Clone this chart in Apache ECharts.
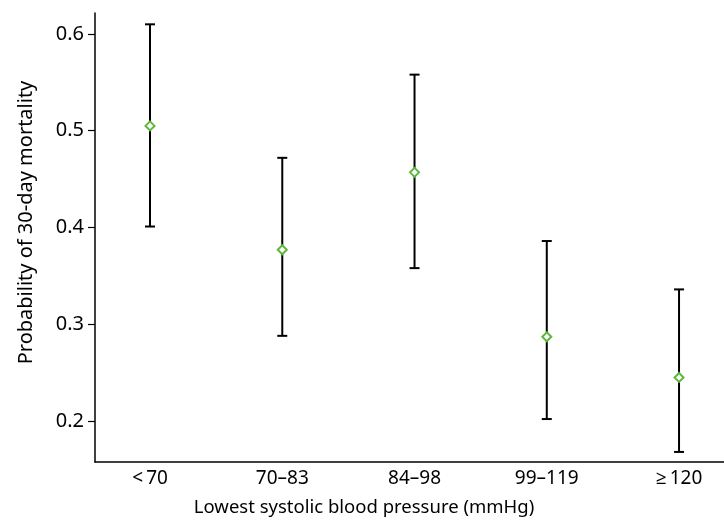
<!DOCTYPE html>
<html>
<head>
<meta charset="utf-8">
<script src="https://cdn.jsdelivr.net/npm/echarts@6/dist/echarts.min.js"></script>
<style>
  html, body { margin: 0; padding: 0; background: #fff; }
  #chart { width: 724px; height: 527px; }
</style>
</head>
<body>
<div id="chart"></div>
<script>
// Blood pressure groups and their estimated 30-day mortality with confidence bounds
const categories = ['<\u200970', '70\u201383', '84\u201398', '99\u2013119', '\u2265\u2009120'];
const estimate = [0.505, 0.377, 0.457, 0.287, 0.245];
const lower = [0.401, 0.288, 0.358, 0.202, 0.168];
const upper = [0.610, 0.472, 0.558, 0.386, 0.336];
const yTicks = [0.2, 0.3, 0.4, 0.5, 0.6];

const positions = categories.map((_, i) => i + 1);
const intervalData = positions.map((x, i) => [x, lower[i], upper[i]]);
const pointData = positions.map((x, i) => [x, estimate[i]]);

const font = '"Noto Sans", "Open Sans", sans-serif';
const chart = echarts.init(document.getElementById('chart'));

chart.setOption({
  animation: false,
  grid: { left: 95, right: 0, top: 13, bottom: 65 },
  xAxis: {
    type: 'value',
    min: 0.584,
    max: 5.34,
    splitLine: { show: false },
    axisLine: { lineStyle: { color: '#000', width: 1.5 } },
    axisTick: { show: false },
    axisLabel: {
      customValues: positions,
      formatter: v => categories[Math.round(v) - 1],
      color: '#000',
      fontSize: 19,
      fontFamily: font,
      margin: 7
    },
    name: 'Lowest systolic blood pressure (mmHg)',
    nameLocation: 'middle',
    nameGap: 36,
    nameTextStyle: { color: '#000', fontSize: 18.5, fontFamily: font, padding: [0, 91, 0, 0] }
  },
  yAxis: {
    type: 'value',
    min: 0.1576,
    max: 0.6217,
    splitLine: { show: false },
    axisLine: { show: true, lineStyle: { color: '#000', width: 1.5 } },
    axisTick: { show: true, customValues: yTicks, length: 7, lineStyle: { color: '#000', width: 1.2 } },
    axisLabel: {
      customValues: yTicks,
      formatter: v => v.toFixed(1),
      color: '#000',
      fontSize: 20,
      fontFamily: font,
      margin: 11
    },
    name: 'Probability of 30-day mortality',
    nameLocation: 'middle',
    nameGap: 59,
    nameTextStyle: { color: '#000', fontSize: 20, fontFamily: font, padding: [0, 0, 0, 30] }
  },
  series: [
    {
      type: 'custom',
      data: intervalData,
      renderItem: (params, api) => {
        const x = api.value(0);
        const lo = api.coord([x, api.value(1)]);
        const hi = api.coord([x, api.value(2)]);
        const half = 5;
        const style = { stroke: '#000', lineWidth: 2 };
        return {
          type: 'group',
          children: [
            { type: 'line', shape: { x1: hi[0], y1: hi[1], x2: lo[0], y2: lo[1] }, style },
            { type: 'line', shape: { x1: hi[0] - half, y1: hi[1], x2: hi[0] + half, y2: hi[1] }, style },
            { type: 'line', shape: { x1: lo[0] - half, y1: lo[1], x2: lo[0] + half, y2: lo[1] }, style }
          ]
        };
      },
      z: 2
    },
    {
      type: 'scatter',
      data: pointData,
      symbol: 'diamond',
      symbolSize: [9, 9],
      itemStyle: { color: '#fff', borderColor: '#5db83a', borderWidth: 2, opacity: 1 },
      z: 3
    }
  ]
});
</script>
</body>
</html>
